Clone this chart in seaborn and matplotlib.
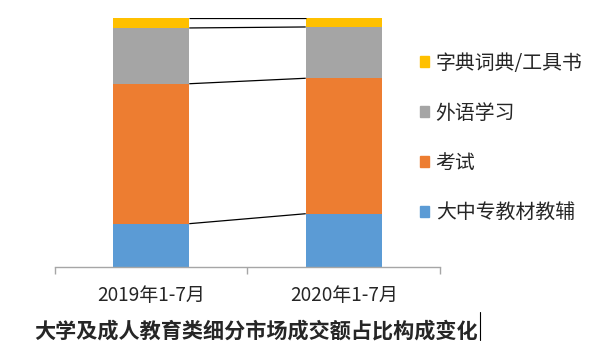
import numpy as np
import pandas as pd
import matplotlib
matplotlib.use('Agg')
import matplotlib.pyplot as plt
import matplotlib.patches as mpatches
from matplotlib.lines import Line2D
import seaborn as sns

# DADOS (percentual de cada segmento, de baixo para cima)
periodos = ['2019年1-7月', '2020年1-7月']
segmentos = ['大中专教材教辅', '考试', '外语学习', '字典词典/工具书']
教材教辅 = [17.4, 21.4]
考试 = [56.2, 54.4]
外语学习 = [22.4, 20.6]
工具书 = [4.0, 3.6]
cores = ['#5B9BD5', '#ED7D31', '#A5A5A5', '#FFC000']

sns.set_style('white')
plt.rcParams['font.family'] = ['Noto Sans CJK SC', 'DejaVu Sans']

df = pd.DataFrame({'periodo': periodos, '大中专教材教辅': 教材教辅, '考试': 考试,
                   '外语学习': 外语学习, '字典词典/工具书': 工具书})
# acumulado em fração
acum = df[segmentos].cumsum(axis=1) / 100.0

fig = plt.figure(figsize=(5.99, 3.57), dpi=100)
ax = fig.add_axes([55 / 599, 90 / 357, 385 / 599, 249 / 357])

largura = 0.395
# barras sobrepostas: do total para baixo
for seg, cor in reversed(list(zip(segmentos, cores))):
    sns.barplot(x=df['periodo'], y=acum[seg], color=cor, saturation=1,
                width=largura, ax=ax, edgecolor='none')

# linhas de série entre as barras
for seg in segmentos:
    ax.plot([0 + largura / 2, 1 - largura / 2], acum[seg].values,
            color='black', lw=0.9, solid_capstyle='butt')

ax.set_xlim(-0.5, 1.5)
ax.set_ylim(0, 1)
ax.set_xlabel('')
ax.set_ylabel('')
ax.set_yticks([])
for lado in ['left', 'top', 'right']:
    ax.spines[lado].set_visible(False)
ax.spines['bottom'].set_color('#A6A6A6')
ax.spines['bottom'].set_linewidth(1)
ax.set_xticks([0, 1])
ax.set_xticklabels(periodos, fontsize=13.7)
ax.set_xticks([-0.5, 0.5, 1.5], minor=True)
ax.tick_params(axis='x', which='major', length=0, pad=13)
ax.tick_params(axis='x', which='minor', length=5, direction='out',
               color='#A6A6A6', width=1, bottom=True)

# legenda
handles = [mpatches.Patch(color=c, label=s) for s, c in zip(segmentos, cores)][::-1]
fig.legend(handles=handles, loc='center left', bbox_to_anchor=(420 / 599, 0.613),
           frameon=False, fontsize=14.3, handlelength=0.47, handleheight=0.47,
           handletextpad=0.32, labelspacing=1.45, borderpad=0, borderaxespad=0)

# título
fig.text(256 / 599, 1 - 331 / 357, '大学及成人教育类细分市场成交额占比构成变化',
         ha='center', va='center', fontsize=15.2, fontweight='bold')
fig.add_artist(Line2D([480 / 599, 480 / 599], [1 - 340 / 357, 1 - 312 / 357],
                      color='black', lw=0.8))

fig.savefig('out.png', dpi=100)
